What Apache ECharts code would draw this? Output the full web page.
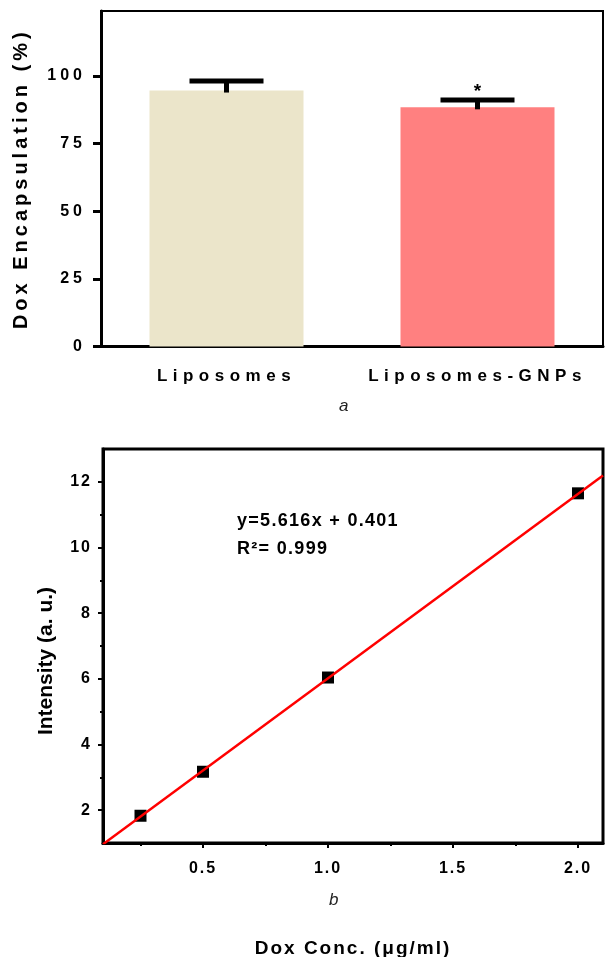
<!DOCTYPE html>
<html>
<head>
<meta charset="utf-8">
<script src="https://cdn.jsdelivr.net/npm/echarts@6/dist/echarts.min.js"></script>
<style>
html, body { margin: 0; padding: 0; background: #fff; }
#chart { width: 605px; height: 957px; }
</style>
</head>
<body>
<div id="chart"></div>
<script>
// panel a - Dox encapsulation (mean and upper SD)
var groups = ['Liposomes', 'Liposomes-GNPs'];
var encMean = [94.6, 88.4];
var encUpper = [98.1, 91.1];
var sigMarks = ['', '*'];
var encTicks = [0, 25, 50, 75, 100];

// panel b - calibration curve
var doxConc = [0.25, 0.5, 1.0, 2.0];
var intensity = [1.83, 3.17, 6.04, 11.65];
var fitLine = [[0.1, 0.963], [2.1, 12.195]];
var concTicks = [0.5, 1.0, 1.5, 2.0];
var concMinor = [0.25, 0.75, 1.25, 1.75];
var intTicks = [2, 4, 6, 8, 10, 12];
var intMinor = [3, 5, 7, 9, 11];

var barColors = ['#EBE5CA', '#FF8080'];
var SANS = '"Liberation Sans", Arial, sans-serif';

// the figure uses letter-spaced text; canvas can do it, echarts has no option for it,
// so the spacing is tagged in the font family list and applied when text is drawn
function tracked(px) {
	return '"Liberation Sans", "track' + px + '", sans-serif';
}
var rawFillText = CanvasRenderingContext2D.prototype.fillText;
CanvasRenderingContext2D.prototype.fillText = function(t, x, y, w) {
	var m = /track([\d.]+)/.exec(this.font);
	this.letterSpacing = m ? m[1] + 'px' : '0px';
	if (w === undefined) return rawFillText.call(this, t, x, y);
	return rawFillText.call(this, t, x, y, w);
};

function txt(size, family, extra) {
	var s = { color: '#000', fontWeight: 'bold', fontSize: size, fontFamily: family };
	for (var k in extra) s[k] = extra[k];
	return s;
}

var chart = echarts.init(document.getElementById('chart'));

var option = {
	animation: false,
	backgroundColor: '#fff',
	title: [{
		text: 'a', left: 339, top: 398, padding: 0,
		textStyle: txt(17, SANS, { fontWeight: 'normal', fontStyle: 'italic', color: '#222' })
	}, {
		text: 'b', left: 329, top: 892, padding: 0,
		textStyle: txt(17, SANS, { fontWeight: 'normal', fontStyle: 'italic', color: '#222' })
	}, {
		text: 'y=5.616x + 0.401\nR\u00b2= 0.999', left: 237, top: 507, padding: 0,
		textStyle: txt(18, tracked(1.3), { lineHeight: 28 })
	}],
	grid: [{
		left: 101, right: 2, top: 11, bottom: 610.5, outerBoundsMode: 'none',
		show: true, borderColor: '#000', borderWidth: 2, backgroundColor: 'transparent'
	}, {
		left: 103, right: 2, top: 449, bottom: 114, outerBoundsMode: 'none',
		show: true, borderColor: '#000', borderWidth: 3, backgroundColor: 'transparent'
	}],
	xAxis: [{
		type: 'category', gridIndex: 0, data: groups,
		axisLine: { lineStyle: { color: '#000', width: 3 } },
		axisTick: { alignWithLabel: true, length: 10, lineStyle: { color: '#000', width: 3 } },
		axisLabel: { margin: 21, color: '#000', fontWeight: 'bold', fontSize: 17, fontFamily: tracked(5.5) }
	}, {
		type: 'value', gridIndex: 1, position: 'bottom', min: 0.1, max: 2.1,
		name: 'Dox Conc. (\u03bcg/ml)', nameLocation: 'middle', nameGap: 96,
		nameTextStyle: txt(19, tracked(2)),
		axisLine: { show: true, lineStyle: { color: '#000', width: 3 } },
		axisTick: { show: true, length: 5, customValues: concTicks, lineStyle: { color: '#000', width: 2 } },
		axisLabel: {
			customValues: concTicks, margin: 18, color: '#000', fontWeight: 'bold', fontSize: 16, fontFamily: tracked(2),
			formatter: function(v) { return v.toFixed(1); }
		},
		splitLine: { show: false }
	}, {
		type: 'value', gridIndex: 1, position: 'bottom', min: 0.1, max: 2.1,
		axisLine: { show: false },
		axisTick: { show: true, length: 3, customValues: concMinor, lineStyle: { color: '#000', width: 2 } },
		axisLabel: { show: false },
		splitLine: { show: false }
	}],
	yAxis: [{
		type: 'value', gridIndex: 0, min: 0, max: 124,
		name: 'Dox Encapsulation (%)', nameLocation: 'middle', nameGap: 70,
		nameTextStyle: txt(20, tracked(4)),
		axisLine: { show: true, lineStyle: { color: '#000', width: 3 } },
		axisTick: { show: true, length: 8, customValues: encTicks, lineStyle: { color: '#000', width: 3 } },
		axisLabel: { customValues: encTicks, margin: 15, color: '#000', fontWeight: 'bold', fontSize: 16, fontFamily: tracked(4) },
		splitLine: { show: false }
	}, {
		type: 'value', gridIndex: 1, position: 'left', min: 1, max: 13,
		name: 'Intensity (a. u.)', nameLocation: 'middle', nameGap: 46,
		nameTextStyle: txt(21, SANS, { padding: [0, 30, 0, 0] }),
		axisLine: { show: true, lineStyle: { color: '#000', width: 3 } },
		axisTick: { show: true, length: 5, customValues: intTicks, lineStyle: { color: '#000', width: 2 } },
		axisLabel: { customValues: intTicks, margin: 11, color: '#000', fontWeight: 'bold', fontSize: 16, fontFamily: tracked(2) },
		splitLine: { show: false }
	}, {
		type: 'value', gridIndex: 1, position: 'left', min: 1, max: 13,
		axisLine: { show: false },
		axisTick: { show: true, length: 3, customValues: intMinor, lineStyle: { color: '#000', width: 2 } },
		axisLabel: { show: false },
		splitLine: { show: false }
	}],
	series: [{
		type: 'bar', xAxisIndex: 0, yAxisIndex: 0, barWidth: 154,
		data: encMean.map(function(v, i) {
			return { value: v, itemStyle: { color: barColors[i] } };
		})
	}, {
		// error bars (upper whisker only) and significance mark
		type: 'custom', xAxisIndex: 0, yAxisIndex: 0, z: 3,
		data: encMean.map(function(v, i) { return [i, v, encUpper[i]]; }),
		renderItem: function(params, api) {
			var base = api.coord([api.value(0), api.value(1)]);
			var top = api.coord([api.value(0), api.value(2)]);
			var half = 37;
			var kids = [{
				type: 'line',
				shape: { x1: base[0], y1: base[1] + 2, x2: top[0], y2: top[1] },
				style: { stroke: '#000', lineWidth: 5 }
			}, {
				type: 'line',
				shape: { x1: top[0] - half, y1: top[1], x2: top[0] + half, y2: top[1] },
				style: { stroke: '#000', lineWidth: 5 }
			}];
			var mark = sigMarks[params.dataIndex];
			if (mark) {
				kids.push({
					type: 'text', x: top[0], y: top[1] - 8,
					style: { text: mark, fill: '#000', font: 'bold 19px ' + SANS, align: 'center', verticalAlign: 'middle' }
				});
			}
			return { type: 'group', children: kids };
		}
	}, {
		type: 'scatter', xAxisIndex: 1, yAxisIndex: 1, z: 2,
		symbol: 'rect', symbolSize: 12,
		itemStyle: { color: '#000', opacity: 1 },
		data: doxConc.map(function(x, i) { return [x, intensity[i]]; })
	}, {
		type: 'line', xAxisIndex: 1, yAxisIndex: 1, z: 3,
		showSymbol: false, clip: true,
		lineStyle: { color: '#ff0000', width: 2.5 },
		data: fitLine
	}]
};

chart.setOption(option);
</script>
</body>
</html>
